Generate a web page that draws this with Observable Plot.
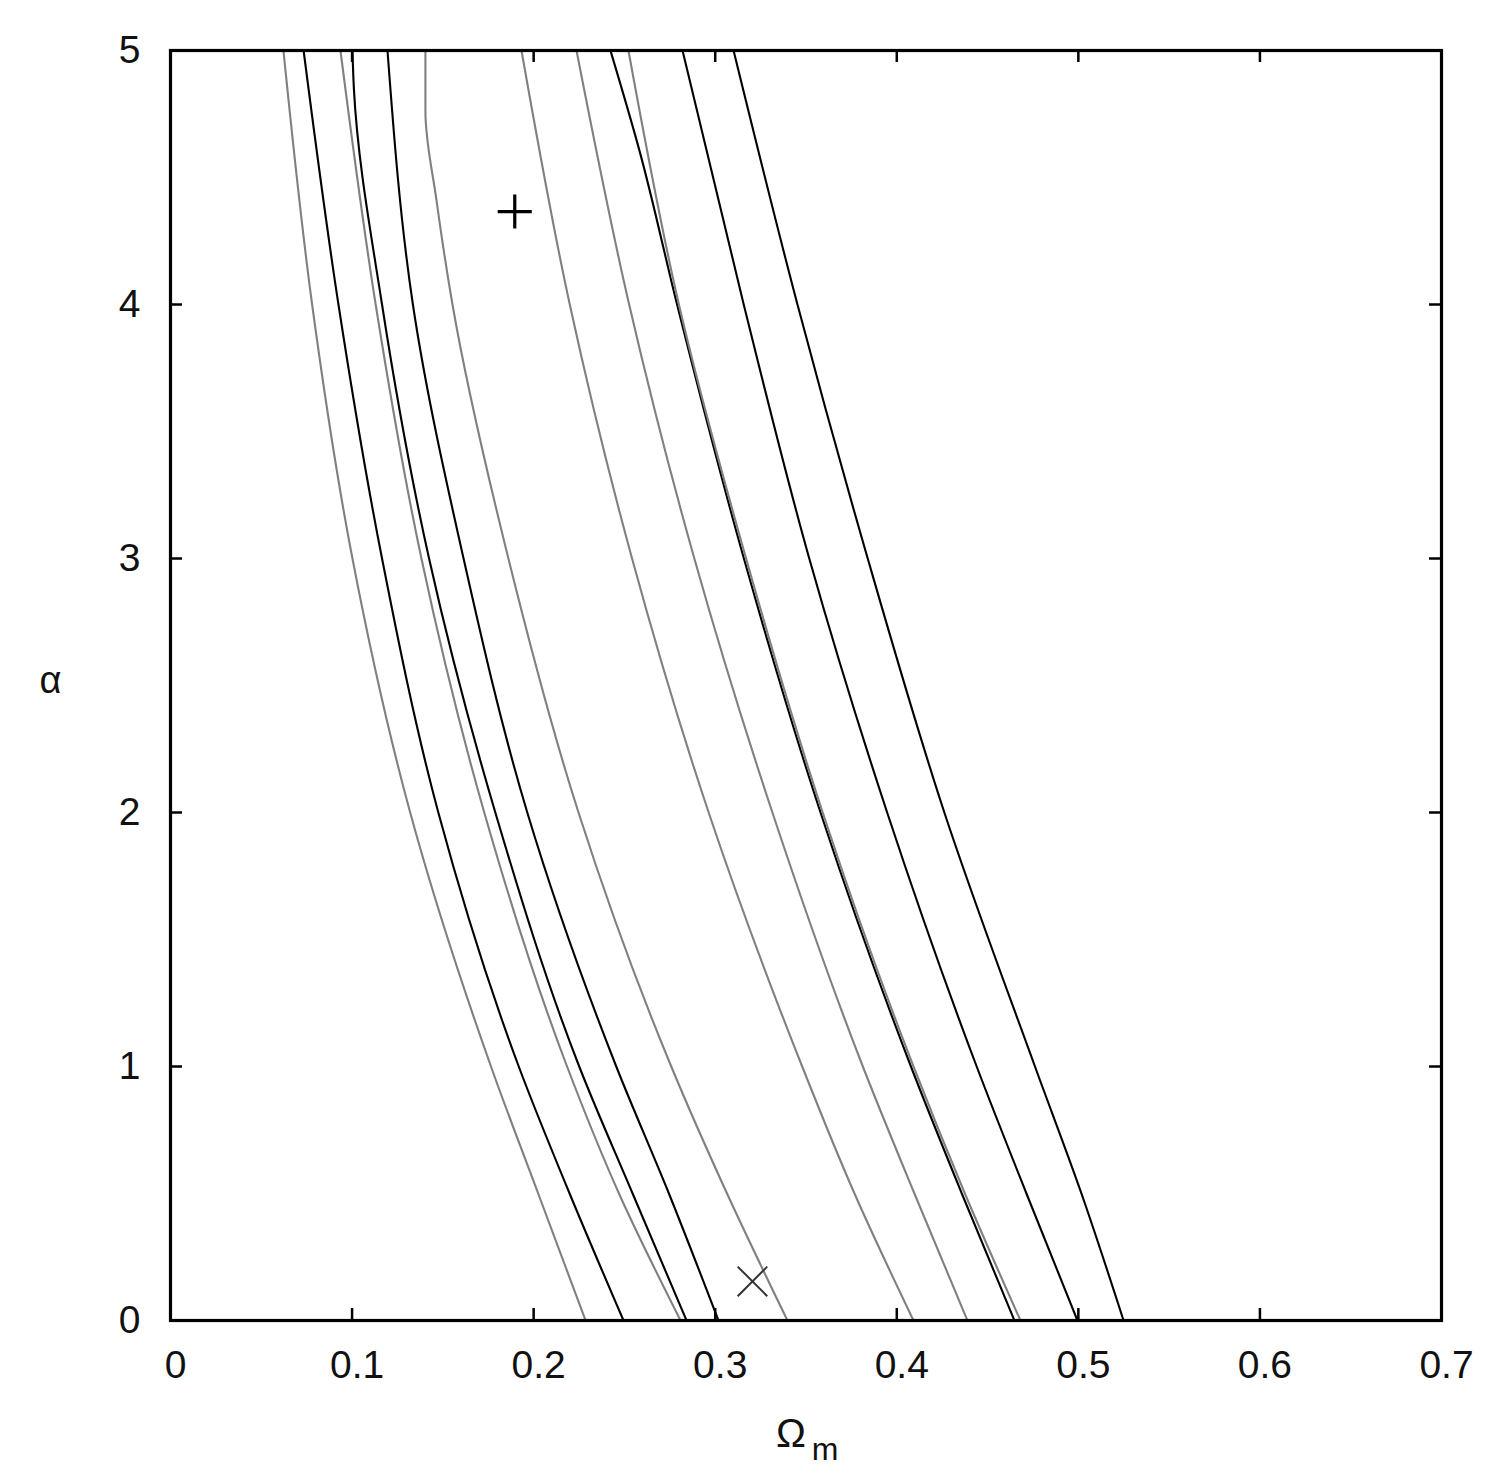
<!DOCTYPE html>
<html><head><meta charset="utf-8">
<script src="https://cdn.jsdelivr.net/npm/d3@7"></script>
<script src="https://cdn.jsdelivr.net/npm/@observablehq/plot@0.6"></script>
<style>body{margin:0;background:#fff;}</style>
</head><body><div id="chart"></div>
<script>
// Tick values
const xTicks = [0, 0.1, 0.2, 0.3, 0.4, 0.5, 0.6, 0.7];
const yTicks = [0, 1, 2, 3, 4, 5];

// Contour curves: [Omega_m, alpha] pairs
const curveA = [[0.0622,5],[0.0780,4],[0.1002,3],[0.1320,2],[0.1765,1],[0.2025,0.5],[0.2286,0]];
const curveB = [[0.0733,5],[0.0925,4],[0.1165,3],[0.1475,2],[0.1918,1],[0.2198,0.5],[0.2495,0]];
const curveC = [[0.0936,5],[0.1130,4],[0.1382,3],[0.1728,2],[0.2184,1],[0.2470,0.5],[0.2809,0]];
const curveD = [[0.1002,5],[0.1010,4.85],[0.1165,4],[0.1424,3],[0.1789,2],[0.2251,1],[0.2545,0.5],[0.2842,0]];
const curveE = [[0.1195,5],[0.1335,4],[0.1614,3],[0.1965,2],[0.2455,1],[0.2745,0.5],[0.3018,0]];
const curveF = [[0.1404,5],[0.1404,4.76],[0.1465,4.41],[0.1553,4],[0.1861,3],[0.2247,2],[0.2758,1],[0.3065,0.5],[0.3398,0]];
const curveG = [[0.1933,5],[0.2199,4],[0.2542,3],[0.2964,2],[0.3479,1],[0.3767,0.5],[0.4092,0]];
const curveH = [[0.2236,5],[0.2526,4],[0.2885,3],[0.3315,2],[0.3813,1],[0.4097,0.5],[0.4389,0]];
const curveI = [[0.2423,5],[0.2585,4.6],[0.2790,4],[0.3158,3],[0.3580,2],[0.4078,1],[0.4358,0.5],[0.4648,0]];
const curveJ = [[0.2522,5],[0.2800,4],[0.3170,3],[0.3592,2],[0.4092,1],[0.4375,0.5],[0.4681,0]];
const curveK = [[0.2820,5],[0.3157,4],[0.3518,3],[0.3947,2],[0.4440,1],[0.4714,0.5],[0.4995,0]];
const curveL = [[0.3101,5],[0.3453,4],[0.3840,3],[0.4262,2],[0.4761,1],[0.5017,0.5],[0.5249,0]];

const curveNames = ["A","B","C","D","E","F","G","H","I","J","K","L"];
const curveShades = ["gray","black","gray","black","black","gray","gray","gray","black","gray","black","black"];
const curves = [curveA,curveB,curveC,curveD,curveE,curveF,curveG,curveH,curveI,curveJ,curveK,curveL];

// Markers
const plusMarker = [[0.1896, 4.366]];
const timesMarker = [[0.3205, 0.154]];

const rows = [];
curves.forEach((pts, i) => pts.forEach(([om, al]) => rows.push({curve: curveNames[i], shade: curveShades[i], om, al})));

const W = 1489, H = 1474;
const mL = 170, mR = 48, mT = 50, mB = 154;
const innerH = H - mT - mB, innerW = W - mL - mR;
const tickLen = 12;
const font = "'Liberation Sans', Arial, sans-serif";

const plot = Plot.plot({
  width: W, height: H,
  marginLeft: mL, marginRight: mR, marginTop: mT, marginBottom: mB,
  x: {domain: [0, 0.7]},
  y: {domain: [0, 5]},
  color: {domain: ["black", "gray"], range: ["#1c1c1c", "#8f8f8f"]},
  style: {fontFamily: font, background: "white", color: "#111"},
  marks: [
    Plot.line(rows, {x: "om", y: "al", z: "curve", stroke: "shade", strokeWidth: 2.1, curve: "monotone-y"}),
    Plot.dot(plusMarker, {x: d => d[0], y: d => d[1], symbol: "plus", r: 11, stroke: "#000", strokeWidth: 3.2}),
    Plot.dot(timesMarker, {x: d => d[0], y: d => d[1], symbol: "times", r: 13.5, stroke: "#333", strokeWidth: 2}),
    Plot.ruleX(xTicks, {x: d => d, insetTop: innerH - tickLen, strokeWidth: 2.5, stroke: "#000"}),
    Plot.ruleX(xTicks, {x: d => d, insetBottom: innerH - tickLen, strokeWidth: 2.5, stroke: "#000"}),
    Plot.ruleY(yTicks, {y: d => d, insetRight: innerW - tickLen, strokeWidth: 2.5, stroke: "#000"}),
    Plot.ruleY(yTicks, {y: d => d, insetLeft: innerW - tickLen, strokeWidth: 2.5, stroke: "#000"}),
    Plot.frame({strokeWidth: 3.2, stroke: "#000"}),
    Plot.axisX(xTicks, {tickSize: 0, tickPadding: 30, fontSize: 39, label: null, tickFormat: d => String(d), dx: 5}),
    Plot.axisY(yTicks, {tickSize: 0, tickPadding: 30, fontSize: 39, label: null, tickFormat: d => String(d)}),
    Plot.text(["α"], {frameAnchor: "left", dx: -131, dy: -5, fontSize: 38}),
    Plot.text(["Ω"], {frameAnchor: "bottom", dx: -15, dy: 126, fontSize: 40}),
    Plot.text(["m"], {frameAnchor: "bottom", dx: 19, dy: 139, fontSize: 32})
  ]
});
document.getElementById("chart").appendChild(plot);
</script>
</body></html>
